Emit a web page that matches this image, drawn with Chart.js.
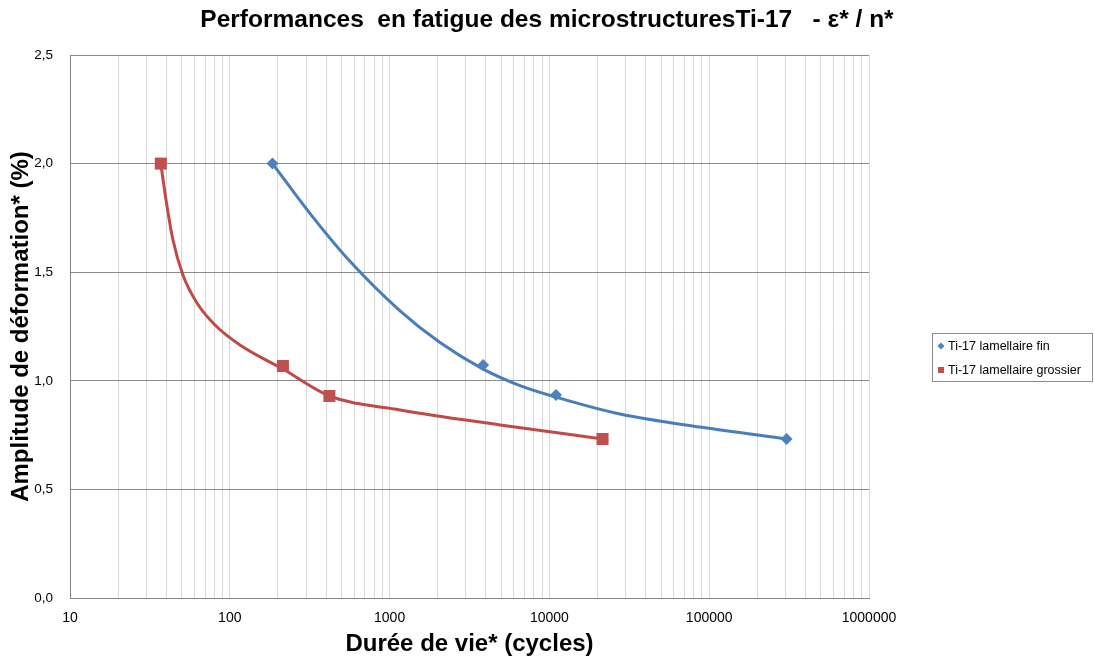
<!DOCTYPE html>
<html>
<head>
<meta charset="utf-8">
<script src="https://cdn.jsdelivr.net/npm/chart.js@4/dist/chart.umd.min.js"></script>
<style>
  html, body { margin: 0; padding: 0; background: #ffffff; }
  #wrap { width: 1094px; height: 663px; }
</style>
</head>
<body>
<div id="wrap"><canvas id="c" width="1094" height="663"></canvas></div>
<script>
// ---- data: measured points (markers) ----
const seriesNames = ['Ti-17 lamellaire fin', 'Ti-17 lamellaire grossier'];
const finCycles = [185, 3850, 11000, 305000];
const finStrain = [2.0, 1.073, 0.935, 0.732];
const grossierCycles = [37, 215, 420, 21500];
const grossierStrain = [2.0, 1.068, 0.93, 0.732];
// ---- data: smoothed curves ----
const finCurveCycles = [185, 318, 565, 1162, 2067, 3850, 6546, 11000, 27660, 87600, 305000];
const finCurveStrain = [2.0, 1.77, 1.55, 1.322, 1.176, 1.054, 0.978, 0.925, 0.847, 0.787, 0.732];
const grossierCurveCycles = [37, 39.9, 44.1, 50.9, 62.3, 80.8, 115.8, 215, 420, 1162, 4910, 21500];
const grossierCurveStrain = [2.0, 1.832, 1.648, 1.487, 1.358, 1.257, 1.165, 1.054, 0.93, 0.866, 0.797, 0.732];
// ---- axes / text ----
const xTickLabels = ['10', '100', '1000', '10000', '100000', '1000000'];
const yTickLabels = ['0,0', '0,5', '1,0', '1,5', '2,0', '2,5'];
const titleText = 'Performances  en fatigue des microstructuresTi-17   - \u03b5* / n*';
const xTitle = 'Durée de vie* (cycles)';
const yTitle = 'Amplitude de déformation* (%)';

const FONT = '"Liberation Sans", Arial, sans-serif';
const colors = { fin: '#4A7EBB', finMarker: '#4F81BD', gros: '#BE4B48', grosMarker: '#C0504D' };

function toPoints(xs, ys) { return xs.map((x, i) => ({ x: x, y: ys[i] })); }

const legendBox = {
  id: 'legendBox',
  afterDraw(chart) {
    const ctx = chart.ctx;
    const x0 = 932.5, y0 = 333.5, w = 160, h = 48;
    ctx.save();
    ctx.strokeStyle = '#8c8c8c';
    ctx.lineWidth = 1;
    ctx.strokeRect(x0, y0, w, h);
    ctx.font = '12.5px ' + FONT;
    ctx.textBaseline = 'middle';
    chart.data.datasets.filter(ds => ds.inLegend).forEach((ds, i) => {
      const cy = 346 + i * 24;
      const mx = 941;
      ctx.fillStyle = ds.pointBackgroundColor;
      ctx.beginPath();
      if (ds.pointStyle === 'rectRot') {
        ctx.moveTo(mx - 3.5, cy); ctx.lineTo(mx, cy - 3.5); ctx.lineTo(mx + 3.5, cy); ctx.lineTo(mx, cy + 3.5);
        ctx.closePath(); ctx.fill();
      } else {
        ctx.fillRect(mx - 3, cy - 3, 6, 6);
      }
      ctx.fillStyle = '#000000';
      ctx.fillText(ds.label, 948, cy + 0.5);
    });
    ctx.restore();
  }
};

new Chart(document.getElementById('c'), {
  type: 'line',
  data: {
    datasets: [
      {
        label: seriesNames[0],
        inLegend: true,
        data: toPoints(finCycles, finStrain),
        showLine: false,
        backgroundColor: colors.finMarker,
        pointBackgroundColor: colors.finMarker,
        pointBorderColor: colors.finMarker,
        pointStyle: 'rectRot',
        pointRadius: 6,
        pointBorderWidth: 0,
        order: 0
      },
      {
        label: seriesNames[1],
        inLegend: true,
        data: toPoints(grossierCycles, grossierStrain),
        showLine: false,
        backgroundColor: colors.grosMarker,
        pointBackgroundColor: colors.grosMarker,
        pointBorderColor: colors.grosMarker,
        pointStyle: 'rect',
        pointRadius: 8.5,
        pointBorderWidth: 0,
        order: 0
      },
      {
        label: seriesNames[0] + ' (courbe)',
        data: toPoints(finCurveCycles, finCurveStrain),
        borderColor: colors.fin,
        borderWidth: 3,
        pointRadius: 0,
        cubicInterpolationMode: 'monotone',
        fill: false,
        order: 1
      },
      {
        label: seriesNames[1] + ' (courbe)',
        data: toPoints(grossierCurveCycles, grossierCurveStrain),
        borderColor: colors.gros,
        borderWidth: 3,
        pointRadius: 0,
        cubicInterpolationMode: 'monotone',
        fill: false,
        order: 1
      }
    ]
  },
  options: {
    responsive: false,
    animation: false,
    devicePixelRatio: 1,
    layout: { padding: { left: 0, right: 0, top: 0, bottom: 0 } },
    plugins: {
      legend: { display: false },
      tooltip: { enabled: false },
      title: {
        display: true,
        text: titleText,
        color: '#000000',
        font: { family: FONT, size: 24.5, weight: 'bold' },
        padding: { top: 6, bottom: 19.6 }
      }
    },
    scales: {
      x: {
        type: 'logarithmic',
        position: 'bottom',
        min: 10,
        max: 1000000,
        afterBuildTicks(scale) {
          const t = [];
          xTickLabels.forEach((lab, d) => {
            const base = Number(lab);
            if (d === xTickLabels.length - 1) { t.push({ value: base }); return; }
            for (let m = 1; m <= 9; m++) t.push({ value: base * m });
          });
          scale.ticks = t;
        },
        afterFit(scale) { scale.height = 65; },
        ticks: {
          autoSkip: false,
          maxRotation: 0,
          padding: 12,
          color: '#000000',
          font: { family: FONT, size: 14 },
          callback(value) {
            const s = String(value);
            return xTickLabels.includes(s) ? s : '';
          }
        },
        grid: { color: '#d9d9d9', lineWidth: 1, drawTicks: false },
        border: { display: true, color: '#868686', width: 1 },
        title: {
          display: true,
          text: xTitle,
          color: '#000000',
          font: { family: FONT, size: 24, weight: 'bold' },
          padding: { top: 0, bottom: 4 }
        }
      },
      y: {
        type: 'linear',
        position: 'left',
        min: 0,
        max: 2.5,
        afterFit(scale) { scale.width = 70; },
        ticks: {
          stepSize: 0.5,
          padding: 17,
          color: '#000000',
          font: { family: FONT, size: 13.5 },
          callback(value) {
            return yTickLabels[Math.round(value / 0.5)];
          }
        },
        grid: { color: '#8c8c8c', lineWidth: 1, drawTicks: false },
        border: { display: true, color: '#868686', width: 1 },
        title: {
          display: true,
          text: yTitle,
          color: '#000000',
          font: { family: FONT, size: 24, weight: 'bold' },
          padding: { top: 7, bottom: 0 }
        }
      },
      spacer: {
        type: 'linear',
        position: 'right',
        display: true,
        afterFit(scale) { scale.width = 225; },
        ticks: { display: false },
        grid: { display: false, drawOnChartArea: false, drawTicks: false },
        border: { display: false }
      }
    }
  },
  plugins: [legendBox]
});
</script>
</body>
</html>
